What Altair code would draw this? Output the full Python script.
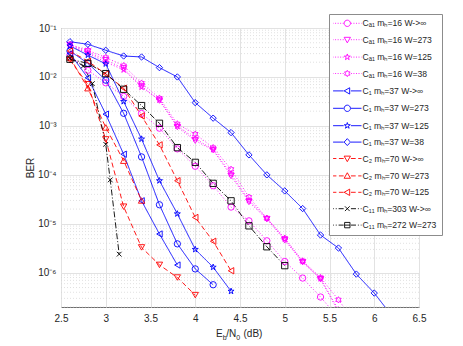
import altair as alt
import pandas as pd

# ---------------- data ----------------
names = [
    "Cₐ₁ mₕ=16 W->∞", "Cₐ₁ mₕ=16 W=273", "Cₐ₁ mₕ=16 W=125", "Cₐ₁ mₕ=16 W=38",
    "C₁ mₕ=37 W->∞", "C₁ mₕ=37 W=273", "C₁ mₕ=37 W=125", "C₁ mₕ=37 W=38",
    "C₂ mₕ=70 W->∞", "C₂ mₕ=70 W=273", "C₂ mₕ=70 W=125",
    "C₁₁ mₕ=303 W->∞", "C₁₁ mₕ=272 W=273",
]

x_a1_inf = [2.6, 2.8, 3.0, 3.2, 3.4, 3.6, 3.8, 4.0, 4.2, 4.4, 4.6, 4.8, 5.0, 5.2, 5.4, 5.6]
y_a1_inf = [0.028, 0.0137, 0.0076, 0.0040, 0.0018, 9.0e-4, 3.4e-4, 1.5e-4, 6.0e-5, 2.2e-5,
            1.15e-5, 4.5e-6, 1.7e-6, 7.8e-7, 3.2e-7, 1.2e-7]
x_a1_273 = [2.6, 2.8, 3.0, 3.2, 3.4, 3.6, 3.8, 4.0, 4.2, 4.4, 4.6, 4.8, 5.0, 5.2, 5.4, 5.6]
y_a1_273 = [0.045, 0.033, 0.022, 0.015, 0.0065, 0.0033, 9.5e-4, 5.0e-4, 3.2e-4, 9.5e-5,
            2.8e-5, 1.25e-5, 4.6e-6, 1.65e-6, 7.4e-7, 1.6e-7]
x_a1_125 = [2.6, 2.8, 3.0, 3.2, 3.4, 3.6, 3.8, 4.0, 4.2, 4.4, 4.6, 4.8, 5.0, 5.2, 5.4, 5.6]
y_a1_125 = [0.043, 0.031, 0.020, 0.014, 0.0062, 0.0034, 1.0e-3, 5.5e-4, 3.3e-4, 1.05e-4,
            3.0e-5, 1.3e-5, 4.9e-6, 1.7e-6, 7.6e-7, 1.75e-7]
x_a1_38 = [2.6, 2.8, 3.0, 3.2, 3.4, 3.6, 3.8, 4.0, 4.2, 4.4, 4.6, 4.8, 5.0, 5.2, 5.4, 5.6, 5.8]
y_a1_38 = [0.046, 0.035, 0.025, 0.017, 0.0075, 0.0037, 1.1e-3, 6.8e-4, 3.6e-4, 1.3e-4,
           3.5e-5, 1.3e-5, 5.1e-6, 1.75e-6, 8.0e-7, 2.8e-7, 9e-8]

x_c1_inf = [2.6, 2.8, 3.0, 3.2, 3.4, 3.6, 3.8]
y_c1_inf = [0.030, 0.0096, 1.74e-3, 2.64e-4, 2.95e-5, 6.2e-6, 1.44e-6]
x_c1_273 = [2.6, 2.8, 3.0, 3.2, 3.4, 3.6, 3.8, 4.0, 4.2]
y_c1_273 = [0.034, 0.019, 0.0086, 1.81e-3, 2.33e-4, 2.45e-5, 3.9e-6, 1.2e-6, 5.7e-7]
x_c1_125 = [2.6, 2.8, 3.0, 3.2, 3.4, 3.6, 3.8, 4.0, 4.2, 4.4]
y_c1_125 = [0.043, 0.028, 0.0185, 3.15e-3, 5.4e-4, 7.6e-5, 1.6e-5, 3.0e-6, 1.3e-6, 4.2e-7]
x_c1_38 = [2.6, 2.8, 3.0, 3.2, 3.4, 3.6, 3.8, 4.0, 4.2, 4.4, 4.6, 4.8, 5.0, 5.2, 5.4,
           5.6, 5.8, 6.0, 6.2]
y_c1_38 = [0.0525, 0.0465, 0.0351, 0.0268, 0.0256, 0.0155, 0.0100, 2.99e-3, 1.44e-3, 7.3e-4,
           2.56e-4, 1.0e-4, 4.7e-5, 2.05e-5, 5.9e-6, 3.2e-6, 9.4e-7, 3.85e-7, 1.3e-7]

x_c2_inf = [2.6, 2.8, 3.0, 3.2, 3.4, 3.6, 3.8, 4.0]
y_c2_inf = [0.022, 0.0071, 5.3e-4, 2.24e-5, 3.3e-6, 1.45e-6, 8.0e-7, 3.5e-7]
x_c2_273 = [2.6, 2.8, 3.0, 3.2, 3.4]
y_c2_273 = [0.025, 0.0059, 9.3e-4, 1.95e-4, 3.0e-5]
x_c2_125 = [2.6, 2.8, 3.0, 3.2, 3.4, 3.6, 3.8, 4.0, 4.2, 4.4]
y_c2_125 = [0.034, 0.021, 0.0115, 5.9e-3, 1.6e-3, 4.1e-4, 7.6e-5, 1.35e-5, 4.4e-6, 1.1e-6]

x_c11_303 = [2.6, 2.75, 2.85, 3.0, 3.05, 3.15]
y_c11_303 = [0.024, 0.0168, 0.0073, 4.2e-4, 7.9e-5, 2.4e-6]
x_c11_272 = [2.6, 2.8, 3.0, 3.2, 3.4, 3.6, 3.8, 4.0, 4.2, 4.4, 4.6, 4.8, 5.0]
y_c11_272 = [0.023, 0.019, 0.0117, 5.6e-3, 2.6e-3, 1.13e-3, 3.6e-4, 1.8e-4, 6.7e-5, 2.95e-5,
             9.1e-6, 3.4e-6, 1.4e-6]

series_x = [x_a1_inf, x_a1_273, x_a1_125, x_a1_38, x_c1_inf, x_c1_273, x_c1_125, x_c1_38,
            x_c2_inf, x_c2_273, x_c2_125, x_c11_303, x_c11_272]
series_y = [y_a1_inf, y_a1_273, y_a1_125, y_a1_38, y_c1_inf, y_c1_273, y_c1_125, y_c1_38,
            y_c2_inf, y_c2_273, y_c2_125, y_c11_303, y_c11_272]

y_ticks = [1e-1, 1e-2, 1e-3, 1e-4, 1e-5, 1e-6]
x_ticks = [2.5, 3, 3.5, 4, 4.5, 5, 5.5, 6, 6.5]
minor_y = [m * 10.0 ** k for k in range(-7, -1) for m in range(2, 10)]
minor_y = [v for v in minor_y if 2e-7 <= v <= 0.1]

# ---------------- styles ----------------
MAG, BLU, RED, BLK = "#ff00ff", "#0000ff", "#ff0000", "#000000"
colors = [MAG] * 4 + [BLU] * 4 + [RED] * 3 + [BLK] * 2
DOT, SOL, DASH, DD = [1, 2], [1, 0], [5, 3], [6, 2, 1, 2]
dashes = [DOT] * 4 + [SOL] * 4 + [DASH] * 3 + [DD] * 2

CIRC = "M1,0A1,1,0,1,1,-1,0A1,1,0,1,1,1,0Z"
TDN = "M-1,-0.75L1,-0.75L0,1Z"
TUP = "M-1,0.75L1,0.75L0,-1Z"
TLF = "M0.75,-1L0.75,1L-1,0Z"
DIA = "M0,-1.1L1,0L0,1.1L-1,0Z"
SQR = "M-0.85,-0.85L0.85,-0.85L0.85,0.85L-0.85,0.85Z"
PENT = ("M0,-1L0.225,-0.309L0.951,-0.309L0.363,0.118L0.588,0.809L0,0.382L-0.588,0.809"
        "L-0.363,0.118L-0.951,-0.309L-0.225,-0.309Z")
HEX = ("M0,-1L0.289,-0.5L0.866,-0.5L0.577,0L0.866,0.5L0.289,0.5L0,1L-0.289,0.5L-0.866,0.5"
       "L-0.577,0L-0.866,-0.5L-0.289,-0.5Z")
XS = "M-0.75,-0.75L0.75,0.75M-0.75,0.75L0.75,-0.75"

plot_shapes = ["circle", "triangle-down", PENT, HEX, "triangle-left", "circle", PENT,
               "diamond", "triangle-down", "triangle-up", "triangle-left", XS, "square"]
legend_marks = [CIRC, TDN, PENT, HEX, TLF, CIRC, PENT, DIA, TDN, TUP, TLF, XS, SQR]


def stub(pattern, inner=1.15, outer=4.5):
    """Line stub (in symbol units) drawn on both sides of the legend marker."""
    segs = []
    for sgn in (-1, 1):
        pos, i = inner, 0
        while pos < outer and pattern:
            ln = pattern[i % len(pattern)]
            on = (i % 2 == 0)
            end = min(pos + ln, outer)
            if on:
                a, b = sgn * pos, sgn * end
                segs.append("M%.2f,0L%.2f,0" % (a, b))
            pos = end
            i += 1
    return "".join(segs)


stub_dot = stub([0.3, 0.5])
stub_sol = stub([10, 0])
stub_dash = stub([1.5, 0.8])
stub_dd = stub([1.6, 0.6, 0.3, 0.6])
stubs = [stub_dot] * 4 + [stub_sol] * 4 + [stub_dash] * 3 + [stub_dd] * 2
legend_shapes = [m + s for m, s in zip(legend_marks, stubs)]
legend_shapes[12] = SQR + "M-0.85,0L0.85,0" + stub_dd

rows = []
for n, xs, ys in zip(names, series_x, series_y):
    for xv, yv in zip(xs, ys):
        rows.append({"series": n, "x": xv, "ber": yv})
df = pd.DataFrame(rows)

xscale = alt.Scale(domain=[2.5, 6.5], nice=False, zero=False)
yscale = alt.Scale(type="log", domain=[2e-7, 0.1], nice=False)
FONT = "Liberation Sans"

xaxis = alt.Axis(values=x_ticks, format="~g", title=None, grid=True, gridColor="#e2e2e2",
                 ticks=False, domain=False, labelFontSize=10, labelFont=FONT,
                 labelColor="#262626", labelPadding=6, labelFlush=False)
yaxis = alt.Axis(values=y_ticks, title="BER", grid=True, gridColor="#e2e2e2", ticks=False,
                 domain=False, labelFontSize=10, labelFont=FONT, labelColor="#262626",
                 labelExpr="['10⁻¹','10⁻²','10⁻³','10⁻⁴','10⁻⁵','10⁻⁶'][round(-log(datum.value)/LN10)-1]",
                 labelPadding=5, titleFontSize=10, titleFont=FONT, titleFontWeight="normal",
                 titleColor="#262626", titlePadding=2)

legend = alt.Legend(orient="none", legendX=268, legendY=-14, title=None, fillColor="white",
                    strokeColor="#8c8c8c", padding=5, labelFontSize=8.6, labelFont=FONT,
                    labelColor="#262626", symbolSize=40, symbolStrokeWidth=0.9, rowPadding=6.4,
                    symbolOffset=9, labelOffset=11, labelLimit=200)

grid = alt.Chart(pd.DataFrame({"v": minor_y})).mark_rule(
    color="#d4d4d4", strokeDash=[1, 2], strokeWidth=0.7
).encode(y=alt.Y("v:Q", scale=yscale, axis=yaxis))

col_scale = alt.Scale(domain=names, range=colors)

lines = alt.Chart(df).mark_line(strokeWidth=0.9, clip=True).encode(
    x=alt.X("x:Q", scale=xscale, axis=xaxis),
    y=alt.Y("ber:Q", scale=yscale, axis=yaxis),
    color=alt.Color("series:N", scale=col_scale, legend=None),
    strokeDash=alt.StrokeDash("series:N", scale=alt.Scale(domain=names, range=dashes),
                              legend=None),
    order=alt.Order("x:Q"),
)

points = alt.Chart(df).mark_point(filled=False, size=40, strokeWidth=0.9, clip=True,
                                  opacity=1).encode(
    x=alt.X("x:Q", scale=xscale, axis=xaxis),
    y=alt.Y("ber:Q", scale=yscale, axis=yaxis),
    color=alt.Color("series:N", scale=col_scale, legend=None),
    shape=alt.Shape("series:N", scale=alt.Scale(domain=names, range=plot_shapes), legend=None),
)

# legend-only layer (no rows survive the filter; the legend comes from the scale domain)
legend_layer = alt.Chart(df).transform_filter("datum.x > 100").mark_point(
    filled=False, size=40, strokeWidth=0.9, opacity=1
).encode(
    x=alt.X("x:Q", scale=xscale, axis=xaxis),
    y=alt.Y("ber:Q", scale=yscale, axis=yaxis),
    color=alt.Color("series:N", scale=col_scale, legend=legend, sort=names),
    shape=alt.Shape("series:N", scale=alt.Scale(domain=names, range=legend_shapes),
                    legend=legend, sort=names),
)


def t(txt, x, y, size):
    return alt.Chart(pd.DataFrame({"t": [txt]})).mark_text(
        align="left", baseline="alphabetic", fontSize=size, font=FONT, color="#262626"
    ).encode(text="t:N", x=alt.value(x), y=alt.value(y))


title_parts = (t("E", 155, 309, 10) + t("b", 161.7, 312, 7) + t("/N", 165.2, 309, 10)
               + t("0", 175.2, 312, 7) + t("(dB)", 182.5, 309, 10))

chart = alt.layer(grid, lines, points, legend_layer, title_parts).resolve_scale(
    color="independent", shape="independent", strokeDash="independent"
).properties(
    width=358, height=279,
    padding={"left": 17, "top": 5, "right": 5, "bottom": 5},
    background="white",
).configure_view(stroke="#6e6e6e", strokeWidth=1)

chart.save("out.html", embed_options={"renderer": "svg", "actions": False})
